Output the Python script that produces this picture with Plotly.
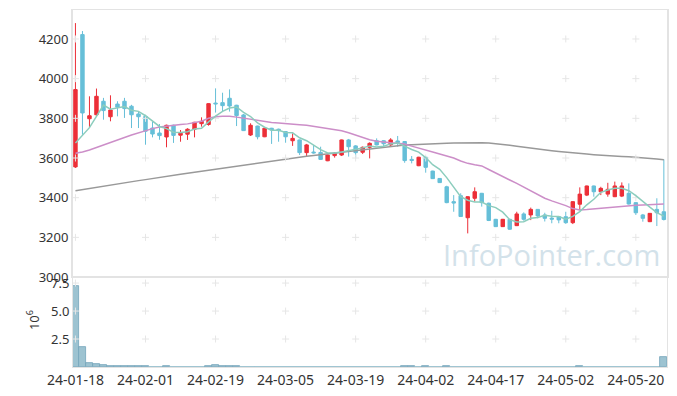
import plotly.graph_objects as go
from plotly.subplots import make_subplots
import datetime as dt

# ---- trading dates (KRX calendar) ----
holidays = {"2024-02-09", "2024-02-12", "2024-03-01", "2024-04-10", "2024-05-01", "2024-05-06", "2024-05-15"}
dates = []
d = dt.date(2024, 1, 18)
while len(dates) < 85:
    if d.weekday() < 5 and d.isoformat() not in holidays:
        dates.append(d.strftime("%y-%m-%d"))
    d += dt.timedelta(days=1)

open_ = [3555, 4222, 3798, 3818, 3886, 3808, 3872, 3886, 3861, 3822,
         3810, 3751, 3726, 3706, 3765, 3715, 3720, 3745, 3773, 3769,
         3877, 3879, 3901, 3866, 3817, 3716, 3761, 3707, 3750, 3745,
         3733, 3687, 3691, 3627, 3630, 3628, 3586, 3612, 3615, 3691,
         3661, 3629, 3654, 3687, 3687, 3666, 3686, 3683, 3593, 3561,
         3604, 3534, 3497, 3455, 3380, 3410, 3299, 3397, 3422, 3372,
         3291, 3254, 3291, 3259, 3318, 3313, 3341, 3313, 3297, 3304,
         3304, 3274, 3367, 3413, 3459, 3430, 3418, 3405, 3408, 3422,
         3375, 3313, 3279, 3341, 3329]
high = [4280, 4240, 3911, 3950, 3903, 3916, 3886, 3903, 3868, 3836,
        3818, 3782, 3771, 3768, 3768, 3741, 3750, 3782, 3805, 3876,
        3951, 3929, 3946, 3868, 3822, 3775, 3763, 3753, 3752, 3748,
        3735, 3724, 3693, 3671, 3666, 3657, 3617, 3630, 3693, 3696,
        3665, 3658, 3679, 3699, 3690, 3700, 3711, 3685, 3610, 3606,
        3606, 3536, 3499, 3460, 3413, 3422, 3407, 3452, 3424, 3375,
        3293, 3293, 3293, 3329, 3326, 3350, 3343, 3324, 3334, 3306,
        3329, 3382, 3452, 3461, 3461, 3455, 3475, 3481, 3477, 3472,
        3377, 3318, 3322, 3397, 3593]
low = [3550, 3717, 3752, 3810, 3793, 3785, 3810, 3802, 3751, 3751,
       3667, 3704, 3692, 3654, 3676, 3682, 3691, 3704, 3758, 3763,
       3829, 3834, 3834, 3761, 3736, 3711, 3694, 3705, 3671, 3682,
       3677, 3661, 3615, 3610, 3622, 3590, 3584, 3602, 3610, 3607,
       3598, 3620, 3598, 3664, 3657, 3661, 3657, 3576, 3573, 3559,
       3526, 3494, 3474, 3372, 3329, 3303, 3220, 3380, 3355, 3282,
       3252, 3252, 3238, 3257, 3284, 3287, 3296, 3280, 3271, 3271,
       3268, 3267, 3338, 3408, 3405, 3413, 3405, 3403, 3403, 3365,
       3313, 3279, 3277, 3257, 3285]
close = [3945, 3827, 3813, 3911, 3839, 3842, 3856, 3849, 3818, 3808,
         3735, 3721, 3713, 3765, 3714, 3725, 3745, 3780, 3785, 3874,
         3873, 3864, 3862, 3814, 3738, 3765, 3707, 3750, 3741, 3738,
         3707, 3699, 3627, 3666, 3626, 3593, 3615, 3624, 3691, 3657,
         3627, 3654, 3674, 3666, 3672, 3691, 3678, 3587, 3588, 3604,
         3553, 3496, 3476, 3375, 3373, 3305, 3405, 3430, 3375, 3285,
         3254, 3291, 3241, 3318, 3291, 3341, 3308, 3296, 3292, 3288,
         3274, 3380, 3418, 3459, 3430, 3447, 3442, 3459, 3459, 3368,
         3324, 3296, 3321, 3324, 3290]
ma5 = [3676, 3712, 3753, 3810, 3867, 3846, 3852, 3859, 3841, 3835,
       3813, 3786, 3759, 3748, 3730, 3728, 3732, 3746, 3750, 3782,
       3811, 3835, 3852, 3857, 3830, 3809, 3777, 3755, 3740, 3740,
       3729, 3727, 3702, 3687, 3665, 3642, 3625, 3625, 3630, 3636,
       3643, 3651, 3661, 3656, 3659, 3671, 3676, 3659, 3643, 3630,
       3602, 3566, 3543, 3501, 3455, 3405, 3387, 3378, 3378, 3360,
       3350, 3327, 3289, 3278, 3279, 3296, 3300, 3311, 3306, 3305,
       3292, 3306, 3330, 3364, 3392, 3427, 3439, 3447, 3447, 3435,
       3410, 3379, 3352, 3325, 3307]
ma20 = [3624, 3630, 3640, 3652, 3666, 3678, 3691, 3703, 3716, 3727,
        3738, 3748, 3756, 3761, 3766, 3769, 3772, 3777, 3785, 3800,
        3808, 3811, 3811, 3806, 3800, 3794, 3788, 3783, 3779, 3777,
        3775, 3772, 3768, 3765, 3760, 3755, 3750, 3744, 3737, 3727,
        3716, 3703, 3692, 3685, 3680, 3677, 3674, 3670, 3660, 3649,
        3639, 3630, 3620, 3610, 3600, 3585, 3573, 3566, 3560, 3542,
        3523, 3506, 3489, 3472, 3453, 3435, 3416, 3397, 3384, 3373,
        3360, 3345, 3338, 3340, 3343, 3346, 3350, 3355, 3358, 3361,
        3362, 3363, 3364, 3366, 3368]
ma120 = [3435, 3441, 3447, 3452, 3458, 3464, 3469, 3475, 3480, 3486,
         3491, 3497, 3502, 3507, 3513, 3518, 3523, 3528, 3533, 3538,
         3543, 3548, 3553, 3558, 3563, 3568, 3574, 3580, 3586, 3592,
         3597, 3601, 3605, 3609, 3613, 3617, 3621, 3625, 3629, 3633,
         3637, 3641, 3646, 3650, 3655, 3659, 3662, 3665, 3667, 3669,
         3671, 3672, 3673, 3674, 3675, 3676, 3677, 3678, 3677, 3675,
         3672, 3668, 3664, 3659, 3654, 3649, 3645, 3641, 3637, 3633,
         3629, 3626, 3623, 3620, 3617, 3614, 3612, 3610, 3608, 3606,
         3604, 3601, 3598, 3595, 3591]
volume_m = [7.25, 1.76, 0.33, 0.27, 0.15, 0.09, 0.09, 0.09, 0.09, 0.09,
            0.08, 0.01, 0.01, 0.08, 0.01, 0.01, 0.01, 0.01, 0.01, 0.08,
            0.16, 0.08, 0.08, 0.08, 0.01, 0.01, 0.01, 0.01, 0.01, 0.01,
            0.01, 0.01, 0.01, 0.01, 0.01, 0.01, 0.01, 0.01, 0.01, 0.01,
            0.01, 0.01, 0.01, 0.01, 0.01, 0.01, 0.01, 0.07, 0.07, 0.01,
            0.07, 0.01, 0.01, 0.07, 0.01, 0.01, 0.01, 0.01, 0.01, 0.01,
            0.01, 0.01, 0.01, 0.01, 0.01, 0.01, 0.01, 0.01, 0.01, 0.01,
            0.01, 0.01, 0.07, 0.01, 0.01, 0.01, 0.01, 0.01, 0.01, 0.01,
            0.01, 0.01, 0.01, 0.01, 0.92]

price_ticks = [3000, 3200, 3400, 3600, 3800, 4000, 4200]
vol_ticks = [2.5, 5.0, 7.5]
vol_tick_text = ["2.5", "5.0", "7.5"]
x_ticks = dates[::10]

FONT = "Noto Sans"
fig = make_subplots(rows=2, cols=1, shared_xaxes=True, vertical_spacing=0,
                    row_heights=[0.748, 0.252])

fig.add_trace(go.Scatter(x=dates, y=ma120, mode="lines", hoverinfo="skip",
                         line=dict(color="#999999", width=1.5)), row=1, col=1)
bar_outline = [0.8 if v >= 0.05 else 0 for v in volume_m]
fig.add_trace(go.Bar(x=dates, y=volume_m, marker=dict(color="#9dc3d1",
                     line=dict(color="#74a5ba", width=bar_outline))), row=2, col=1)

# grid crosses
gx, gy = [], []
for t in x_ticks:
    for v in price_ticks[1:]:
        gx.append(t); gy.append(v)
fig.add_trace(go.Scatter(x=gx, y=gy, mode="markers", hoverinfo="skip",
                         marker=dict(symbol="cross-thin", size=5,
                                     line=dict(color="#e6e6e6", width=1))),
              row=1, col=1)
vx, vy = [], []
for t in x_ticks:
    for v in vol_ticks:
        vx.append(t); vy.append(v)
fig.add_trace(go.Scatter(x=vx, y=vy, mode="markers", hoverinfo="skip",
                         marker=dict(symbol="cross-thin", size=5,
                                     line=dict(color="#e6e6e6", width=1))),
              row=2, col=1)

fig.add_trace(go.Scatter(x=dates, y=ma20, mode="lines", hoverinfo="skip",
                         line=dict(color="#cc8ec8", width=1.5)), row=1, col=1)
fig.add_trace(go.Scatter(x=dates, y=ma5, mode="lines", hoverinfo="skip",
                         line=dict(color="#8ccdbd", width=1.5)), row=1, col=1)

fig.add_trace(go.Candlestick(
    x=dates, open=open_, high=high, low=low, close=close,
    increasing=dict(line=dict(color="#ec2f38", width=1), fillcolor="#ec2f38"),
    decreasing=dict(line=dict(color="#66bfd8", width=1), fillcolor="#66bfd8"),
    whiskerwidth=0), row=1, col=1)

fig.update_layout(
    width=677, height=396, showlegend=False,
    margin=dict(l=73, r=10, t=10, b=29, autoexpand=False),
    paper_bgcolor="white", plot_bgcolor="white",
    bargap=0,
    font=dict(family=FONT, size=13, color="#444444"),
    annotations=[
        dict(text="InfoPointer.com", xref="paper", yref="paper",
             x=0.991, y=0.316, xanchor="right", yanchor="middle",
             showarrow=False,
             font=dict(family="Open Sans", size=29, color="#d3e2ea")),
        dict(text="10<sup>6</sup>", xref="paper", yref="paper",
             x=-0.067, y=0.132, xanchor="center", yanchor="middle",
             textangle=-90, showarrow=False,
             font=dict(family=FONT, size=13, color="#333333")),
    ],
)
fig.update_xaxes(type="category", categoryorder="array", categoryarray=dates,
                 range=[-0.35, 84.45], showgrid=False, automargin=False,
                 zeroline=False, showline=True, linecolor="#e3e3e3", linewidth=1,
                 mirror=True, tickmode="array", tickvals=x_ticks, ticks="",
                 rangeslider=dict(visible=False))
fig.update_xaxes(showticklabels=False, row=1, col=1)
fig.update_xaxes(showticklabels=True, ticktext=x_ticks, row=2, col=1,
                 tickangle=0, tickfont=dict(size=14, color="#333333"))
fig.update_yaxes(range=[3000, 4346], tickvals=price_ticks, showgrid=False,
                 automargin=False,
                 zeroline=False, showline=True, linecolor="#e3e3e3", linewidth=2,
                 mirror=True, ticks="", tickfont=dict(size=13, color="#333333"),
                 row=1, col=1)
fig.update_yaxes(range=[0, 8.04], tickvals=vol_ticks, ticktext=vol_tick_text,
                 showgrid=False, zeroline=False, showline=True, automargin=False,
                 linecolor="#e3e3e3", linewidth=1, mirror=True, ticks="",
                 tickfont=dict(size=13, color="#333333"),
                 row=2, col=1)

fig.write_html("out.html", config={"displayModeBar": False},
               post_script="document.body.style.margin='0';")
